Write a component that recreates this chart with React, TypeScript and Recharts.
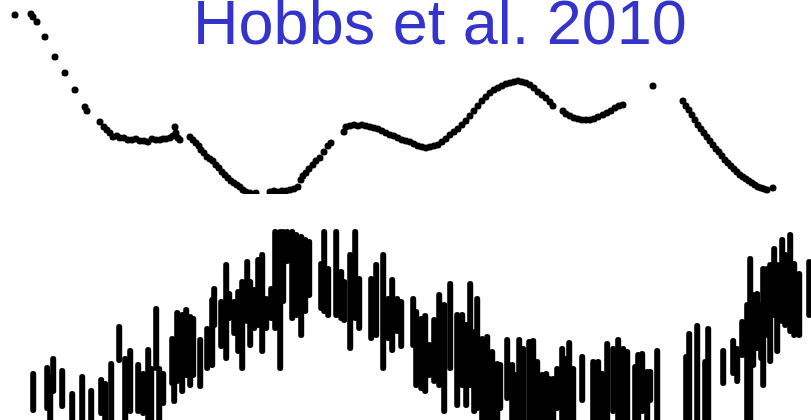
import { Bar, BarChart, Scatter, ScatterChart, XAxis, YAxis } from "recharts";

// upper panel: spin-down samples (arbitrary units)
const spinT = [
  15, 31, 33, 37, 45, 55, 65, 75, 85, 87,
  100, 104, 107, 110, 113, 117, 120, 124, 128, 132, 136, 140, 144, 148, 152, 156, 160, 163, 166, 170, 173, 175, 176, 178, 180,
  190, 193, 196, 199, 201, 204, 207, 210, 213, 216, 219, 222, 225, 228, 231, 234, 237, 240, 243, 246, 250, 256, 270, 274, 278, 282, 286, 290, 294, 298, 301, 303, 306, 309, 313, 316, 320, 324, 328, 331,
  344, 346, 350, 354, 358, 362, 366, 370, 374, 378, 382, 386, 390, 394, 398, 402, 406, 410, 414, 418, 422, 426, 430, 434, 438, 442, 446, 450, 454, 458, 462, 466, 470, 474, 478, 482, 486, 490, 494, 498, 502, 506, 510, 514, 518, 522, 526, 530, 534, 538, 542, 546, 550, 553,
  563, 566, 570, 574, 578, 582, 586, 590, 594, 598, 603, 607, 611, 615, 619, 623,
  653,
  683, 686, 689, 692, 695, 698, 701, 704, 707, 710, 713, 716, 719, 722, 725, 728, 731, 734, 737, 740, 743, 746, 749, 752, 755, 758, 761, 764, 767, 773,
];
const spinV = [
  185, 186, 183, 178, 163, 143, 127, 110, 93, 89,
  78, 73, 70, 67, 63, 64, 62, 62, 60, 60, 61, 59, 59, 58, 61, 60, 60, 61, 61, 62, 64, 73, 67, 62, 60,
  63, 60, 57, 54, 50, 47, 43, 41, 39, 35, 32, 28, 25, 22, 19, 17, 15, 13, 10, 8, 7, 7, 8, 9, 8, 9, 9, 10, 11, 13, 20, 24, 27, 31, 35, 39, 42, 48, 54, 57,
  68, 73, 74, 75, 74, 75, 74, 73, 72, 71, 69, 67, 65, 64, 62, 60, 59, 58, 56, 54, 53, 52, 53, 54, 55, 58, 61, 65, 68, 71, 75, 79, 84, 89, 94, 99, 103, 107, 110, 112, 114, 116, 117, 118, 119, 118, 117, 115, 112, 108, 105, 102, 98, 94,
  89, 86, 84, 82, 81, 80, 80, 80, 81, 83, 85, 87, 89, 92, 94, 95,
  114,
  99, 94, 90, 85, 80, 75, 71, 67, 63, 59, 55, 51, 48, 44, 40, 37, 34, 31, 28, 25, 23, 21, 19, 17, 15, 13, 12, 11, 10, 12,
];

// lower panel: profile shape measurements, upper and lower ends of each bar
const shapeT = [
  33, 47, 50, 53, 62, 72, 82, 91, 101, 105, 111, 119, 125, 130, 138, 143, 148, 151, 156, 159, 163,
  172, 174, 177, 182, 186, 190, 193, 200, 207, 212, 214, 221, 223, 226, 229, 234, 238, 242, 247, 250, 254, 258, 262, 266, 271,
  275, 280, 283, 287, 292, 296, 301, 305, 309, 321, 324, 328, 336, 341, 344, 350, 355, 359, 371, 376, 383, 388, 392, 397,
  401, 413, 416, 421, 425, 429, 434, 439, 444, 450, 457, 462, 466, 470, 474, 477, 482, 487, 492, 497, 500,
  507, 512, 515, 519, 523, 529, 533, 537, 542, 546, 549, 553, 557, 562, 566, 569, 573, 582, 593, 598,
  602, 607, 613, 618, 623, 627, 635, 638, 642, 647, 650, 657, 686, 689, 697, 705, 708,
  723, 733, 737, 742, 747, 750, 753, 757, 761, 763, 767, 770, 774, 777, 782, 785, 790, 794, 799, 809,
];
const shapeHigh = [
  48, 54, 45, 63, 51, 28, 45, 31, 42, 38, 58, 95, 63, 71, 57, 48, 72, 53, 113, 53, 48,
  83, 73, 109, 107, 112, 105, 103, 82, 93, 122, 133, 120, 112, 157, 128, 120, 130, 140, 160, 140, 132, 162, 167, 123, 133,
  190, 190, 190, 190, 190, 187, 185, 182, 180, 158, 190, 153, 190, 150, 140, 167, 190, 143, 143, 157, 167, 123, 142, 123,
  120, 123, 110, 103, 106, 77, 102, 127, 117, 138, 107, 107, 97, 138, 90, 123, 83, 85, 70, 58, 57,
  82, 57, 47, 82, 73, 80, 81, 60, 47, 48, 43, 43, 53, 73, 63, 79, 53, 65, 60, 60,
  48, 78, 73, 82, 73, 70, 55, 67, 68, 50, 50, 71, 65, 88, 96, 60, 93,
  71, 81, 73, 100, 117, 163, 127, 128, 117, 153, 153, 157, 173, 157, 182, 167, 187, 158, 148, 160,
];
const shapeLow = [
  8, 10, -10, 27, 12, -10, -10, -10, 5, -10, -10, 58, -10, 7, 7, 5, -10, -10, 50, -10, 15,
  35, 17, 37, 27, 43, 33, 43, 32, 50, 53, 93, 72, 73, 60, 100, 85, 67, 50, 97, 73, 90, 93, 67, 90, 100,
  90, 50, 117, 157, 100, 103, 83, 107, 123, 110, 107, 103, 103, 100, 98, 70, 100, 90, 80, 83, 50, 80, 68, 87,
  72, 73, 33, 30, 27, 43, 37, 33, 7, 50, 13, 33, 13, 33, 7, 10, -10, -10, -10, -10, 10,
  20, -10, -10, -10, -10, -10, -10, -10, -10, -10, -10, -10, 10, -10, -10, -10, -10, 18, -10, -10,
  -10, -10, 7, -10, -10, -10, -10, -10, 7, -10, 18, -10, -10, -10, -10, -10, -10,
  35, 45, 37, 63, -10, -10, 53, 70, 60, 33, 83, 57, 103, 67, 97, 93, 87, 83, 83, 103,
];

const spinData = spinT.map((t, i) => ({ t, v: spinV[i] }));
const shapeData = shapeT.map((t, i) => ({ t, range: [shapeLow[i], shapeHigh[i]] }));

const Dot = (props: any) => {
  if (props.cx == null || props.cy == null) return <g />;
  return <circle cx={props.cx} cy={props.cy} r={3.5} fill="#000" />;
};

// fixed-width bar with rounded ends, centred on the band the library gives
const ThickBar = (props: any) => {
  const { x, y, width, height } = props;
  if (x == null || y == null || !height) return <g />;
  const cx = x + width / 2;
  const top = Math.min(y, y + height);
  const h = Math.abs(height);
  return <rect x={cx - 3} y={top - 1} width={6} height={h + 2} rx={3} ry={3} fill="#000" />;
};

export default function App() {
  return (
    <div style={{ position: "absolute", left: 0, top: 0, width: 811, height: 420, background: "#fff", overflow: "hidden" }}>
      <div style={{ position: "absolute", left: 0, top: 0 }}>
        <ScatterChart width={811} height={194} margin={{ top: 0, right: 0, bottom: 0, left: 0 }}>
          <XAxis type="number" dataKey="t" domain={[0, 811]} hide allowDataOverflow />
          <YAxis type="number" dataKey="v" domain={[6, 200]} hide allowDataOverflow />
          <Scatter data={spinData} fill="#000" shape={<Dot />} isAnimationActive={false} />
        </ScatterChart>
      </div>
      <div style={{ position: "absolute", left: 0, top: 200 }}>
        <BarChart width={811} height={220} data={shapeData} margin={{ top: 0, right: 0, bottom: 0, left: 0 }}>
          <XAxis type="number" dataKey="t" domain={[0, 811]} hide allowDataOverflow />
          <YAxis type="number" domain={[0, 220]} hide allowDataOverflow />
          <Bar dataKey="range" fill="#000" shape={<ThickBar />} isAnimationActive={false} />
        </BarChart>
      </div>
      <svg width={811} height={70} style={{ position: "absolute", left: 0, top: 0 }}>
        <text
          x={440}
          y={44}
          textAnchor="middle"
          fontFamily="'Liberation Sans', Arial, sans-serif"
          fontSize={63}
          fill="#3434cc"
        >
          Hobbs et al. 2010
        </text>
      </svg>
    </div>
  );
}
